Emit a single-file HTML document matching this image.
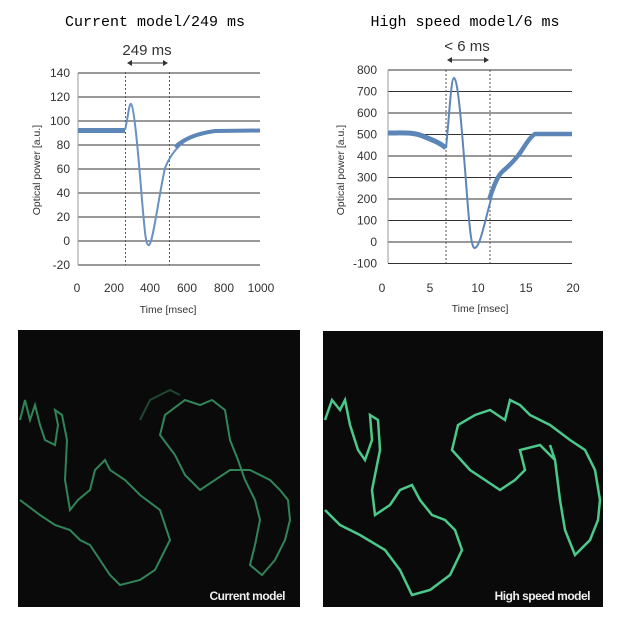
<!DOCTYPE html>
<html><head><meta charset="utf-8"><style>
body{margin:0;background:#fff;width:619px;height:615px;overflow:hidden;font-family:"Liberation Sans",sans-serif}
</style></head><body>
<svg width="619" height="615" xmlns="http://www.w3.org/2000/svg">
<g font-family="Liberation Mono, monospace" font-size="15" fill="#000">
<text x="155" y="26" text-anchor="middle">Current model/249 ms</text>
<text x="465" y="26" text-anchor="middle">High speed model/6 ms</text>
</g>
<!-- Left chart -->
<g stroke="#333" stroke-width="1">
<line x1="78" y1="73" x2="260" y2="73"/><line x1="78" y1="97" x2="260" y2="97"/><line x1="78" y1="121" x2="260" y2="121"/><line x1="78" y1="145" x2="260" y2="145"/><line x1="78" y1="169" x2="260" y2="169"/><line x1="78" y1="193" x2="260" y2="193"/><line x1="78" y1="217" x2="260" y2="217"/><line x1="78" y1="241" x2="260" y2="241"/><line x1="78" y1="265" x2="260" y2="265"/>
<line x1="78" y1="73" x2="78" y2="265" stroke="#999"/>
</g>
<g stroke="#555" stroke-dasharray="2,2"><line x1="125.5" y1="72" x2="125.5" y2="265"/><line x1="169.5" y1="72" x2="169.5" y2="265"/></g>
<g stroke="#333" fill="#333"><line x1="129" y1="63" x2="166" y2="63"/><path d="M127 63l5-3v6z M168 63l-5-3v6z" stroke="none"/></g>
<text x="147" y="55" font-size="15" fill="#333" text-anchor="middle">249 ms</text>
<g font-size="12" fill="#333" text-anchor="end">
<text x="70" y="77">140</text><text x="70" y="101">120</text><text x="70" y="125">100</text><text x="70" y="149">80</text><text x="70" y="173">60</text><text x="70" y="197">40</text><text x="70" y="221">20</text><text x="70" y="245">0</text><text x="70" y="269">-20</text>
</g>
<g font-size="12" fill="#333" text-anchor="middle">
<text x="77" y="292">0</text><text x="114" y="292">200</text><text x="150" y="292">400</text><text x="187" y="292">600</text><text x="224" y="292">800</text><text x="261" y="292">1000</text>
</g>
<text x="168" y="313" font-size="10.5" fill="#333" text-anchor="middle">Time [msec]</text>
<text transform="translate(40,170) rotate(-90)" font-size="10.5" fill="#333" text-anchor="middle">Optical power [a.u.]</text>
<path d="M78 130.5 L125 130.5" stroke="#5d86b8" stroke-width="5" fill="none"/>
<path d="M125 130 C128 118 129 103 131 104 C134 106 138 150 142 200 C145 235 146 246 149 245 C153 243 158 200 165 168 C172 150 185 138 200 134 C215 131 235 130 260 130.5" stroke="#6a91c2" stroke-width="2" fill="none"/>
<path d="M175 147 C185 138 200 133 215 131 L260 130.5" stroke="#5d86b8" stroke-width="4" fill="none"/>
<!-- Right chart -->
<g stroke="#333" stroke-width="1">
<line x1="388" y1="70" x2="572" y2="70"/><line x1="388" y1="91.5" x2="572" y2="91.5"/><line x1="388" y1="113" x2="572" y2="113"/><line x1="388" y1="134.5" x2="572" y2="134.5"/><line x1="388" y1="156" x2="572" y2="156"/><line x1="388" y1="177.5" x2="572" y2="177.5"/><line x1="388" y1="199" x2="572" y2="199"/><line x1="388" y1="220.5" x2="572" y2="220.5"/><line x1="388" y1="242" x2="572" y2="242"/><line x1="388" y1="263.5" x2="572" y2="263.5"/>
<line x1="388" y1="70" x2="388" y2="263" stroke="#999"/>
</g>
<g stroke="#555" stroke-dasharray="2,2"><line x1="446" y1="70" x2="446" y2="263"/><line x1="490" y1="70" x2="490" y2="263"/></g>
<g stroke="#333" fill="#333"><line x1="449" y1="60" x2="487" y2="60"/><path d="M447 60l5-3v6z M489 60l-5-3v6z" stroke="none"/></g>
<text x="467" y="51" font-size="15" fill="#333" text-anchor="middle">&lt; 6 ms</text>
<g font-size="12" fill="#333" text-anchor="end">
<text x="377" y="74">800</text><text x="377" y="95.5">700</text><text x="377" y="117">600</text><text x="377" y="138.5">500</text><text x="377" y="160">400</text><text x="377" y="181.5">300</text><text x="377" y="203">200</text><text x="377" y="224.5">100</text><text x="377" y="246">0</text><text x="377" y="267.5">-100</text>
</g>
<g font-size="12" fill="#333" text-anchor="middle">
<text x="382" y="292">0</text><text x="430" y="292">5</text><text x="478" y="292">10</text><text x="526" y="292">15</text><text x="573" y="292">20</text>
</g>
<text x="480" y="312" font-size="10.5" fill="#333" text-anchor="middle">Time [msec]</text>
<text transform="translate(344,170) rotate(-90)" font-size="10.5" fill="#333" text-anchor="middle">Optical power [a.u.]</text>
<path d="M388 133 C405 133 415 132 425 137 C435 141 440 143 446 148" stroke="#5d86b8" stroke-width="5" fill="none"/>
<path d="M446 148 C449 120 451 78 454 78 C458 78 462 130 467 195 C470 235 472 249 475 248 C480 246 484 225 490 203 C494 185 498 175 503 171 C510 165 515 160 520 153 C526 144 530 137 535 134 L572 134" stroke="#5d86b8" stroke-width="2" fill="none"/>
<path d="M489 200 C494 185 498 175 503 171 C510 165 515 160 520 153 C526 144 530 137 535 134 L572 134" stroke="#5d86b8" stroke-width="4.5" fill="none"/>
<!-- Images -->
<rect x="18" y="330" width="282" height="277" fill="#0a0a0a"/>
<rect x="323" y="331" width="280" height="276" fill="#0a0a0a"/>
<g fill="none" stroke="#3fae72" stroke-width="2" opacity="0.75">
<path d="M20 420 L25 400 L30 420 L35 405 L40 425 L45 440 L55 445 L58 425 L55 410 L62 415 L67 440 L65 480 L70 510 L78 500 L90 490 L95 470 L105 460 L110 470 L125 480 L140 495 L160 510 L170 540 L155 570 L140 580 L120 585 L110 575 L100 560 L90 545 L80 540 L70 530 L55 525 L40 515 L20 500"/>
<path d="M175 455 L160 435 L165 415 L185 400 L200 405 L212 400 L225 410 L230 440 L238 460 L245 480 L255 500 L260 520 L255 545 L250 565 L262 575 L275 560 L285 540 L290 520 L288 500 L280 490 L270 480 L250 470 L230 470 L215 480 L200 490 L185 475 Z"/>
<path d="M140 420 L150 400 L170 390 L180 395" opacity="0.5"/>
</g>
<g fill="none" stroke="#4cc98a" stroke-width="2.5">
<path d="M325 420 L332 400 L340 410 L345 400 L350 425 L358 450 L365 460 L372 440 L370 415 L378 420 L380 450 L372 490 L375 515 L390 505 L400 490 L412 485 L420 500 L432 515 L445 520 L455 530 L462 550 L450 575 L430 590 L412 595 L400 570 L385 550 L360 535 L340 525 L325 510"/>
<path d="M505 420 L490 410 L475 415 L458 425 L452 450 L470 470 L485 480 L500 490 L515 480 L525 470 L520 450 L540 445 L555 460 L560 500 L565 530 L575 555 L590 540 L598 520 L600 500 L595 470 L585 450 L570 440 L550 425 L530 415 L520 405 L510 400 Z"/>
<path d="M550 445 L555 460"/>
</g>
<text x="285" y="600" font-size="12" font-weight="bold" fill="#eee" text-anchor="end" letter-spacing="-0.5">Current model</text>
<text x="590" y="600" font-size="12" font-weight="bold" fill="#eee" text-anchor="end" letter-spacing="-0.5">High speed model</text>
</svg>
</body></html>
